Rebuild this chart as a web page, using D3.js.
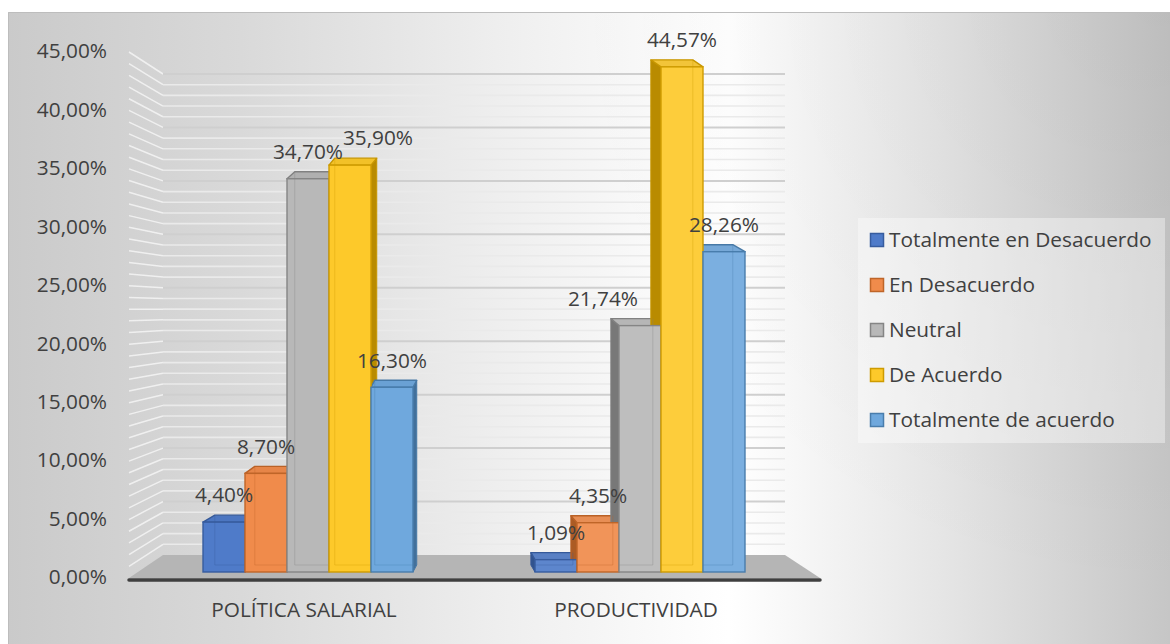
<!DOCTYPE html>
<html>
<head>
<meta charset="utf-8">
<script src="https://cdn.jsdelivr.net/npm/d3@7"></script>
<style>
  html, body { margin: 0; padding: 0; background: #fff; }
  svg { display: block; }
  text { font-family: "Open Sans", "Noto Sans", sans-serif; }
</style>
</head>
<body>
<svg id="chart" width="1170" height="644"></svg>
<script>
// ---------- data ----------
const categories = ["POLÍTICA SALARIAL", "PRODUCTIVIDAD"];
const seriesNames = ["Totalmente en Desacuerdo", "En Desacuerdo", "Neutral", "De Acuerdo", "Totalmente de acuerdo"];
const politicaSalarial = [4.40, 8.70, 34.70, 35.90, 16.30];
const productividad = [1.09, 4.35, 21.74, 44.57, 28.26];
const yTicks = [0, 5, 10, 15, 20, 25, 30, 35, 40, 45];

// ---------- styles ----------
const seriesColors = ["#4472C4", "#ED7D31", "#A5A5A5", "#FFC000", "#5B9BD5"];
const frontFills = ["#4f7bc9", "#f08b4b", "#b8b8b8", "#fdc92a", "#6fa8dd"];
const labelShiftX = [[0, 0, 0, 28, 0], [0, 0, -37, 0, 0]];
const FS = 20.8;

const values = [politicaSalarial, productividad];
const svg = d3.select("#chart");
const W = 1170, H = 644;

const locale = d3.formatLocale({decimal: ",", thousands: ".", grouping: [3], currency: ["", "€"], percent: "%"});
const fmt = locale.format(".2f");
const pct = v => fmt(v) + "%";

// ---------- background ----------
const defs = svg.append("defs");
const bg = defs.append("linearGradient").attr("id", "bg")
  .attr("gradientUnits", "userSpaceOnUse").attr("x1", 8).attr("y1", 0).attr("x2", W).attr("y2", 0);
[[0, "#cacaca"], [0.2, "#d9d9d9"], [0.42, "#eeeeee"], [0.62, "#ffffff"], [0.8, "#e6e6e6"], [1, "#c6c6c6"]]
  .forEach(([o, c]) => bg.append("stop").attr("offset", o).attr("stop-color", c));
const tr = defs.append("radialGradient").attr("id", "tr")
  .attr("gradientUnits", "userSpaceOnUse").attr("cx", W).attr("cy", 0).attr("r", 600);
tr.append("stop").attr("offset", 0).attr("stop-color", "#000").attr("stop-opacity", 0.05);
tr.append("stop").attr("offset", 1).attr("stop-color", "#000").attr("stop-opacity", 0);

svg.append("rect").attr("x", 8).attr("y", 12).attr("width", W - 8).attr("height", H - 12).attr("fill", "url(#bg)");
svg.append("rect").attr("x", 8).attr("y", 12).attr("width", W - 8).attr("height", H - 12).attr("fill", "url(#tr)");
svg.append("path").attr("d", `M8.5,${H} V12.5 H${W}`).attr("fill", "none").attr("stroke", "#bdbdbd").attr("stroke-width", 1);

// ---------- scales ----------
const wallLeftFront = 129, wallLeftBack = 163, wallRightBack = 785, wallRightFront = 820;
const yFront = d3.scaleLinear().domain([0, 45]).range([578, 52]);   // front edge of side wall / axis labels
const yBack = d3.scaleLinear().domain([0, 45]).range([555, 74]);    // back wall
const yBar = d3.scaleLinear().domain([0, 45]).range([572, 62]);     // bar front faces

const x0 = d3.scaleBand().domain(categories).range([142, 806]).padding(0);
const groupW = x0.bandwidth() * 0.6325;
const x1 = d3.scaleBand().domain(seriesNames).range([0, groupW]).padding(0);
const vpX = 470, depthK = 0.048, depthY = -7;

// ---------- walls ----------
const minorTicks = d3.range(1, 46, 1);
const gWall = svg.append("g");
gWall.selectAll("line.side").data(minorTicks).join("line")
  .attr("x1", wallLeftFront).attr("x2", wallLeftBack)
  .attr("y1", d => yFront(d)).attr("y2", d => yBack(d))
  .attr("stroke", "#f4f4f4").attr("stroke-opacity", 0.85).attr("stroke-width", 1.5);
gWall.selectAll("line.back").data(minorTicks).join("line")
  .attr("x1", wallLeftBack).attr("x2", wallRightBack)
  .attr("y1", d => yBack(d)).attr("y2", d => yBack(d))
  .attr("stroke", d => d % 5 === 0 ? "#cfcfcf" : "#eaeaea")
  .attr("stroke-width", d => d % 5 === 0 ? 2 : 1.6);

// floor
svg.append("polygon")
  .attr("points", [[wallLeftBack, yBack(0)], [wallRightBack, yBack(0)], [wallRightFront, yFront(0)], [wallLeftFront, yFront(0)]].map(p => p.join(",")).join(" "))
  .attr("fill", "#b5b5b5");
svg.append("line").attr("x1", wallLeftFront).attr("x2", wallRightFront)
  .attr("y1", yFront(0) + 2).attr("y2", yFront(0) + 2)
  .attr("stroke", "#3f3f3f").attr("stroke-width", 3.5).attr("stroke-linecap", "round");

// ---------- bars ----------
const bars = [];
categories.forEach((cat, gi) => {
  seriesNames.forEach((s, si) => {
    const L = x0(cat) + (x0.bandwidth() - groupW) / 2 + x1(s);
    const R = L + x1.bandwidth();
    const xc = (L + R) / 2;
    const v = values[gi][si];
    const T = yBar(v), B = yBar(0);
    const dx = (vpX - xc) * depthK;
    bars.push({gi, si, L, R, xc, T, B, dx, v});
  });
});

const gBars = svg.append("g");
const colorOf = b => {
  const base = frontFills[b.si];
  return b.gi === 1 ? d3.interpolateRgb(base, "#ffffff")(0.08) : base;
};
const poly = pts => pts.map(p => p.join(",")).join(" ");

bars.forEach(b => {
  const c = colorOf(b);
  const edge = d3.color(seriesColors[b.si]).darker(0.7).formatHex();
  const dy = depthY;
  const side = b.dx > 0
    ? [[b.R, b.T], [b.R + b.dx, b.T + dy], [b.R + b.dx, b.B + dy], [b.R, b.B]]
    : [[b.L, b.T], [b.L + b.dx, b.T + dy], [b.L + b.dx, b.B + dy], [b.L, b.B]];
  gBars.append("polygon").attr("points", poly(side))
    .attr("fill", d3.color(seriesColors[b.si]).darker(0.9).formatHex())
    .attr("stroke", edge).attr("stroke-width", 1).attr("stroke-linejoin", "round");
  gBars.append("polygon")
    .attr("points", poly([[b.L, b.T], [b.R, b.T], [b.R + b.dx, b.T + dy], [b.L + b.dx, b.T + dy]]))
    .attr("fill", d3.color(c).darker(0.12).formatHex())
    .attr("stroke", edge).attr("stroke-width", 1.4).attr("stroke-linejoin", "round");
});
bars.forEach(b => {
  const c = colorOf(b);
  const edge = d3.color(seriesColors[b.si]).darker(0.6).formatHex();
  gBars.append("rect").attr("x", b.L).attr("y", b.T).attr("width", b.R - b.L).attr("height", b.B - b.T)
    .attr("fill", c).attr("stroke", edge).attr("stroke-width", 1.4);
  const bx = b.dx > 0 ? b.L + b.dx : b.R + b.dx;
  gBars.append("line").attr("x1", bx).attr("x2", bx).attr("y1", b.T + depthY).attr("y2", b.B + depthY)
    .attr("stroke", edge).attr("stroke-opacity", 0.35).attr("stroke-width", 1);
  gBars.append("line").attr("x1", Math.max(b.L, b.L + b.dx)).attr("x2", Math.min(b.R, b.R + b.dx))
    .attr("y1", b.B + depthY).attr("y2", b.B + depthY)
    .attr("stroke", edge).attr("stroke-opacity", 0.35).attr("stroke-width", 1);
});

// ---------- data labels ----------
svg.append("g").selectAll("text").data(bars).join("text")
  .attr("x", b => b.xc + labelShiftX[b.gi][b.si])
  .attr("y", b => b.T - 27)
  .attr("dy", "0.35em")
  .attr("text-anchor", "middle")
  .attr("font-size", FS).attr("fill", "#404040")
  .text(b => pct(b.v));

// ---------- axis labels ----------
svg.append("g").selectAll("text").data(yTicks).join("text")
  .attr("x", 107).attr("y", d => yFront(d) - 1).attr("dy", "0.35em")
  .attr("text-anchor", "end").attr("font-size", FS).attr("fill", "#404040")
  .text(d => pct(d));

svg.append("g").selectAll("text").data(categories).join("text")
  .attr("x", d => x0(d) + x0.bandwidth() / 2 - 4).attr("y", 610).attr("dy", "0.35em")
  .attr("text-anchor", "middle").attr("font-size", FS).attr("fill", "#404040")
  .text(d => d);

// ---------- legend ----------
const lg = svg.append("g");
lg.append("rect").attr("x", 858).attr("y", 218).attr("width", 307).attr("height", 225)
  .attr("fill", "#ffffff").attr("fill-opacity", 0.38);
const ly = d3.scalePoint().domain(seriesNames).range([240, 420]);
const items = lg.selectAll("g.item").data(seriesNames).join("g").attr("transform", d => `translate(0,${ly(d)})`);
items.append("rect").attr("x", 870.5).attr("y", -6.5).attr("width", 13).attr("height", 13)
  .attr("fill", (d, i) => frontFills[i])
  .attr("stroke", (d, i) => d3.color(seriesColors[i]).darker(0.6).formatHex()).attr("stroke-width", 1.5);
items.append("text").attr("x", 889).attr("y", 0).attr("dy", "0.35em")
  .attr("font-size", FS).attr("fill", "#404040").text(d => d);
</script>
</body>
</html>
